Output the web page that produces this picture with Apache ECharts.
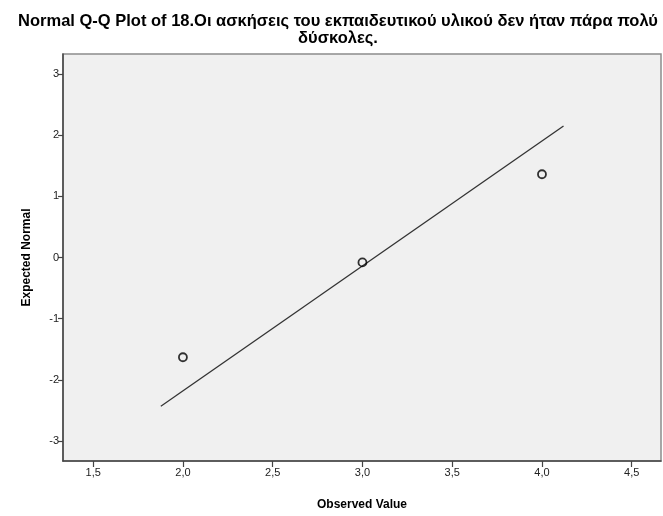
<!DOCTYPE html>
<html>
<head>
<meta charset="utf-8">
<script src="https://cdn.jsdelivr.net/npm/echarts@6/dist/echarts.min.js"></script>
<style>
  html, body { margin: 0; padding: 0; background: #fff; }
  #chart { width: 663px; height: 516px; }
</style>
</head>
<body>
<div id="chart"></div>
<script>
// Observed scores and their expected normal quantiles
const observedValues = [2, 3, 4];
const expectedNormal = [-1.63, -0.08, 1.36];

// Reference line endpoints (observed, expected)
const lineX = [1.877, 4.12];
const lineY = [-2.43, 2.15];

// Tick values shown on each axis
const xTicks = [1.5, 2.0, 2.5, 3.0, 3.5, 4.0, 4.5];
const yTicks = [-3, -2, -1, 0, 1, 2, 3];

const titleText = 'Normal Q-Q Plot of 18.Οι ασκήσεις του εκπαιδευτικού υλικού δεν ήταν πάρα πολύ\nδύσκολες.';

const font = '"Liberation Sans", Arial, sans-serif';

const chart = echarts.init(document.getElementById('chart'), null, { renderer: 'canvas' });

chart.setOption({
  animation: false,
  backgroundColor: '#ffffff',
  title: {
    text: titleText,
    left: 333,
    top: 8,
    textAlign: 'center',
    textStyle: { fontFamily: font, fontSize: 16.5, fontWeight: 'bold', color: '#000', lineHeight: 17 }
  },
  grid: {
    left: 63, top: 54, right: 2, bottom: 46,
    show: true,
    backgroundColor: '#f0f0f0',
    borderColor: '#8c8c8c',
    borderWidth: 1.5
  },
  xAxis: {
    type: 'value',
    min: 1.332, max: 4.663,
    name: 'Observed Value',
    nameLocation: 'middle',
    nameGap: 38,
    nameTextStyle: { fontFamily: font, fontSize: 12, fontWeight: 'bold', color: '#000' },
    axisLine: { show: true, onZero: false, lineStyle: { color: '#444', width: 1.5 } },
    axisTick: { show: true, length: 6, customValues: xTicks, lineStyle: { color: '#444', width: 1.2 } },
    axisLabel: {
      customValues: xTicks,
      margin: 6,
      fontFamily: font, fontSize: 11, color: '#222',
      formatter: v => v.toFixed(1).replace('.', ',')
    },
    splitLine: { show: false }
  },
  yAxis: {
    type: 'value',
    min: -3.325, max: 3.325,
    name: 'Expected Normal',
    nameLocation: 'middle',
    nameGap: 30,
    nameTextStyle: { fontFamily: font, fontSize: 12, fontWeight: 'bold', color: '#000' },
    axisLine: { show: true, onZero: false, lineStyle: { color: '#444', width: 1.5 } },
    axisTick: { show: true, length: 5, customValues: yTicks, lineStyle: { color: '#444', width: 1.2 } },
    axisLabel: {
      customValues: yTicks,
      margin: 4,
      fontFamily: font, fontSize: 11, color: '#222',
      formatter: v => String(v)
    },
    splitLine: { show: false }
  },
  series: [
    {
      type: 'line',
      data: lineX.map((x, i) => [x, lineY[i]]),
      showSymbol: false,
      symbol: 'none',
      lineStyle: { color: '#333', width: 1.3 },
      z: 2
    },
    {
      type: 'scatter',
      data: observedValues.map((x, i) => [x, expectedNormal[i]]),
      symbol: 'circle',
      symbolSize: 8,
      itemStyle: { color: 'rgba(0,0,0,0)', borderColor: '#000', borderWidth: 1.8 },
      z: 3
    }
  ]
});
</script>
</body>
</html>
